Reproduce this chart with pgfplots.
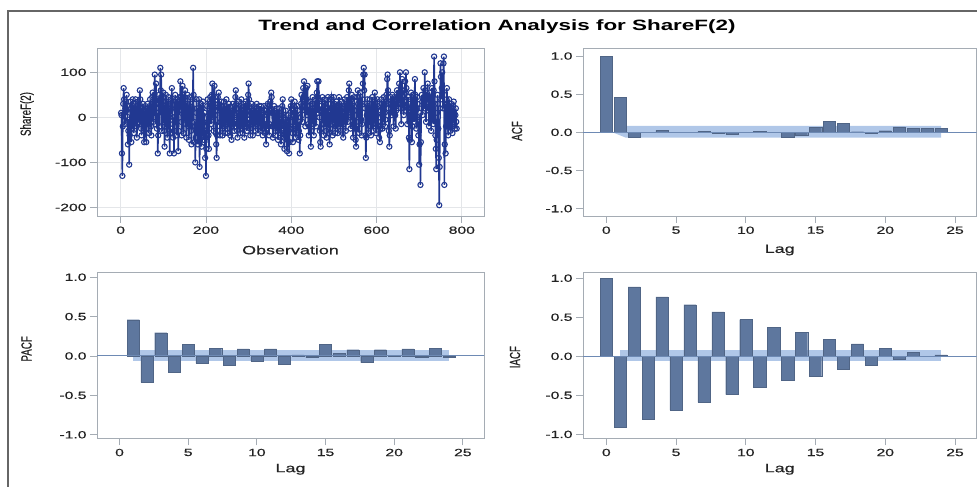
\documentclass[border=0pt]{standalone}
\usepackage{graphicx}
\usepackage{pgfplots}
\pgfplotsset{compat=1.18}
\usepackage{fontspec}
\setmainfont{Liberation Sans}[FakeStretch=1.5]
\newfontfamily\tickfont{Liberation Sans}[FakeStretch=1.5, FakeBold=0.6]
\newfontfamily\ylabfont{Liberation Sans}[FakeBold=0.6]
\definecolor{framec}{RGB}{165,172,180}
\definecolor{tickc}{RGB}{35,35,35}
\definecolor{seriesc}{RGB}{33,56,145}
\definecolor{barc}{RGB}{94,119,158}
\definecolor{bandc}{RGB}{176,199,232}
\definecolor{refc}{RGB}{110,138,180}
\definecolor{gridc}{RGB}{228,230,233}
\newcommand{\ylab}[1]{{\ylabfont\fontsize{9.8}{11}\selectfont\scalebox{1}[1.5]{#1}}}
\pgfplotsset{
  panel/.style={
    scale only axis, anchor=south west,
    axis line style={framec, line width=0.8bp},
    tick style={framec, line width=0.8bp},
    tick align=outside, major tick length=7bp,
    tick pos=left,
    ticklabel style={font=\tickfont\fontsize{10.5}{12}\selectfont, text=tickc},
    /pgf/number format/assume math mode=true,
    xlabel style={font=\tickfont\fontsize{12}{14}\selectfont, text=tickc},
    ylabel style={text=tickc},
  },
  corr/.style={panel,
    xtick={0,5,10,15,20,25}, ytick={-1,-0.5,0,0.5,1},
    yticklabel style={/pgf/number format/fixed, /pgf/number format/fixed zerofill, /pgf/number format/precision=1},
  },
  barsty/.style={ybar, bar width=0.88, fill=barc, draw=barc!85!black, line width=0.3bp},
}
\begin{document}
\begin{tikzpicture}
\useasboundingbox (0,0) rectangle (977bp,487bp);
\draw[line width=1.2bp, color=black!60] (8bp,-5bp) -- (8bp,476bp) -- (990bp,476bp);
\node[font=\fontsize{15}{18}\selectfont\bfseries, anchor=center] at (497bp,460bp) {Trend and Correlation Analysis for ShareF(2)};

% Panel 1: series
\begin{axis}[panel, at={(97bp,271bp)}, width=387bp, height=168bp,
  xmin=-55.5, xmax=852, ymin=-219, ymax=154,
  xtick={0,200,400,600,800}, ytick={-200,-100,0,100},
  grid=major, major grid style={gridc, line width=0.8bp},
  xlabel={Observation}, ylabel={\ylab{ShareF(2)}},
  xlabel style={at={(axis description cs:0.5,0)}, anchor=center, yshift=-34bp},
  ylabel style={at={(axis description cs:0,0.607)}, anchor=center, yshift=70bp}]
\addplot[seriesc, line width=1.5bp, mark=o, mark size=2.6bp, mark options={line width=1.1bp}]
 table[row sep=\\, x expr=\coordindex+1, y=y] {y\\
10\\ 5\\ -80\\ -130\\ -20\\ 30\\ 65\\ 40\\ 10\\ -15\\ 20\\ 35\\ 15\\ 50\\ 25\\ -10\\ -60\\ -30\\ -5\\ -105\\
-40\\ 10\\ 35\\ 20\\ -55\\ -25\\ 15\\ 40\\ 25\\ -10\\ -35\\ -5\\ 20\\ 30\\ 40\\ 10\\ -20\\ -45\\ -15\\ 25\\
35\\ 15\\ -10\\ 30\\ 60\\ 40\\ 5\\ -25\\ -40\\ -10\\ 20\\ 30\\ 5\\ -30\\ -55\\ -20\\ 15\\ 25\\ -5\\ -55\\
-25\\ 10\\ 30\\ 20\\ -15\\ -35\\ 0\\ 25\\ 40\\ 15\\ -20\\ -40\\ 10\\ 45\\ 55\\ 30\\ -10\\ 20\\ 50\\ 95\\
40\\ -15\\ 75\\ 30\\ -25\\ 10\\ -80\\ -40\\ 20\\ 50\\ 30\\ -20\\ 110\\ 60\\ 95\\ 25\\ -30\\ 10\\ 45\\ 55\\
15\\ -30\\ -65\\ -20\\ 25\\ 50\\ 35\\ -10\\ -45\\ 0\\ 30\\ 45\\ 10\\ -30\\ -80\\ -35\\ 15\\ 40\\ 20\\ 65\\
30\\ -15\\ -45\\ 0\\ -80\\ -30\\ 25\\ 50\\ 35\\ -5\\ -40\\ 10\\ 40\\ 20\\ -75\\ -30\\ 15\\ 45\\ 30\\ 80\\
45\\ -10\\ -40\\ 15\\ 70\\ 40\\ 5\\ -35\\ 20\\ 45\\ 60\\ 25\\ -15\\ -45\\ -5\\ 30\\ 50\\ 20\\ -20\\ -50\\
-10\\ 25\\ 45\\ 15\\ -30\\ -60\\ -20\\ 20\\ 40\\ 110\\ 50\\ -10\\ -55\\ -20\\ -100\\ -45\\ 10\\ 40\\ 20\\ -30\\
-60\\ -25\\ 15\\ 40\\ -110\\ -50\\ 0\\ 30\\ 10\\ -65\\ -30\\ 20\\ 35\\ -10\\ -50\\ -20\\ 10\\ -90\\ -45\\ -130\\
-70\\ -20\\ 25\\ 40\\ 5\\ -40\\ -70\\ -25\\ 20\\ 45\\ 30\\ -15\\ 10\\ 50\\ 75\\ 40\\ 0\\ -30\\ 20\\ 70\\
45\\ 5\\ -35\\ -60\\ -90\\ -40\\ 15\\ 45\\ 30\\ 55\\ 20\\ -20\\ -40\\ -10\\ 25\\ 35\\ 10\\ -25\\ -40\\ -5\\
20\\ 35\\ 15\\ -20\\ -35\\ -5\\ 25\\ 40\\ 20\\ -15\\ -35\\ -10\\ 20\\ 30\\ 5\\ -25\\ -40\\ -15\\ 15\\ -50\\
-20\\ 10\\ 30\\ 15\\ -15\\ -30\\ 0\\ 25\\ 45\\ 60\\ 30\\ -5\\ -30\\ -45\\ -15\\ 20\\ 35\\ 10\\ -20\\ -35\\
-5\\ 25\\ 40\\ 15\\ -20\\ -35\\ -10\\ 15\\ 30\\ -45\\ -15\\ 20\\ 35\\ 10\\ -20\\ -30\\ 5\\ 30\\ 50\\ 75\\
40\\ 5\\ -25\\ -40\\ -10\\ 20\\ 30\\ 10\\ -15\\ -40\\ -10\\ 15\\ 25\\ 5\\ -20\\ -30\\ 0\\ 20\\ 30\\ 10\\
-15\\ -35\\ -10\\ 15\\ 25\\ 5\\ -20\\ -30\\ 25\\ 15\\ -10\\ -25\\ -40\\ -15\\ 10\\ 25\\ 15\\ -15\\ -35\\ -20\\
-60\\ -25\\ 5\\ 25\\ 30\\ 10\\ -20\\ -40\\ -15\\ 15\\ 35\\ 20\\ 55\\ 45\\ 10\\ -20\\ -45\\ -20\\ 10\\ 25\\
5\\ -20\\ -40\\ -15\\ 10\\ 20\\ 0\\ -30\\ -50\\ -25\\ 5\\ 20\\ 10\\ -20\\ -45\\ -60\\ -25\\ 5\\ 25\\ 40\\
15\\ -20\\ -45\\ -70\\ -35\\ -5\\ 15\\ -10\\ -40\\ -75\\ -50\\ -20\\ 5\\ -30\\ -80\\ -55\\ -25\\ 10\\ 25\\ 40\\
20\\ -10\\ -35\\ -55\\ -25\\ 5\\ 25\\ 35\\ 10\\ -20\\ -45\\ -25\\ 5\\ 25\\ 15\\ -20\\ -50\\ -30\\ -10\\ -80\\
-40\\ 0\\ 30\\ 50\\ 25\\ -10\\ 40\\ 65\\ 45\\ 80\\ 50\\ 15\\ -20\\ 20\\ 65\\ 40\\ 5\\ 70\\ 35\\ -15\\
-40\\ -20\\ 15\\ 35\\ 10\\ -65\\ -30\\ 5\\ 30\\ 45\\ 20\\ -15\\ -40\\ -10\\ 20\\ 40\\ 15\\ -20\\ 30\\ 55\\
80\\ 45\\ 10\\ 80\\ 40\\ 0\\ -30\\ -55\\ -65\\ -25\\ 10\\ 35\\ 45\\ 20\\ -15\\ -40\\ -15\\ 15\\ 40\\ 25\\
-5\\ -30\\ -45\\ -15\\ 20\\ 45\\ 30\\ -10\\ -35\\ -60\\ -25\\ 10\\ 40\\ 45\\ 20\\ -15\\ -40\\ -10\\ 25\\ 45\\
30\\ -5\\ -35\\ -20\\ 15\\ 35\\ 20\\ -15\\ -35\\ -10\\ 25\\ 45\\ 30\\ -5\\ -30\\ -15\\ 15\\ 35\\ 20\\ -10\\
-35\\ -45\\ -15\\ 20\\ 40\\ 25\\ -10\\ -30\\ 5\\ 30\\ 45\\ 20\\ -10\\ 35\\ 60\\ 75\\ 40\\ 5\\ -25\\ 10\\
40\\ 50\\ 20\\ -20\\ -45\\ -15\\ 25\\ 45\\ 15\\ -25\\ -50\\ -65\\ -25\\ 15\\ 45\\ 60\\ 30\\ -10\\ -35\\ 5\\
35\\ 55\\ 30\\ -5\\ -40\\ -15\\ 40\\ 75\\ 95\\ 110\\ 60\\ 95\\ 20\\ -40\\ -90\\ -45\\ 5\\ 40\\ 25\\ -10\\
-35\\ -10\\ 25\\ 40\\ 15\\ -20\\ -40\\ -5\\ 30\\ 45\\ 20\\ -15\\ -30\\ 10\\ 40\\ 55\\ 30\\ -5\\ -35\\ -15\\
20\\ 40\\ 25\\ -10\\ -30\\ -45\\ -20\\ -55\\ -25\\ 15\\ 40\\ 30\\ 5\\ -25\\ -10\\ 25\\ 45\\ 30\\ 10\\ -20\\
-5\\ 30\\ 50\\ 35\\ 85\\ 95\\ 60\\ 20\\ -30\\ -65\\ -40\\ 10\\ 45\\ 30\\ 5\\ 25\\ 50\\ 40\\ 15\\ -20\\
10\\ 45\\ 35\\ 5\\ -25\\ 15\\ 40\\ 60\\ 30\\ 45\\ 20\\ 55\\ 75\\ 40\\ 100\\ 55\\ 20\\ -15\\ 40\\ 85\\
20\\ 45\\ 30\\ 5\\ 35\\ 60\\ 80\\ 55\\ 100\\ 65\\ 25\\ -15\\ 20\\ 45\\ 10\\ -45\\ -115\\ -50\\ 10\\ 40\\
55\\ 20\\ -55\\ -20\\ 30\\ 50\\ 25\\ -10\\ 40\\ 85\\ 50\\ 15\\ -25\\ 20\\ 45\\ 30\\ -5\\ -40\\ -10\\ -105\\
-60\\ 10\\ -150\\ -55\\ 20\\ 50\\ 35\\ 5\\ 40\\ 65\\ 45\\ 20\\ 100\\ 60\\ 25\\ -10\\ 30\\ 55\\ 40\\ 75\\
45\\ 15\\ -20\\ 20\\ 55\\ 40\\ 10\\ -30\\ 30\\ 65\\ 45\\ 20\\ -15\\ 60\\ 135\\ 80\\ 30\\ -40\\ -70\\ -115\\
-50\\ 10\\ 50\\ 30\\ -25\\ -90\\ -195\\ -110\\ 20\\ 120\\ 90\\ 40\\ 65\\ 100\\ 55\\ 20\\ 120\\ 135\\ -150\\ -60\\
30\\ -80\\ -20\\ 40\\ 65\\ 30\\ -10\\ -40\\ 10\\ 40\\ 25\\ -15\\ -30\\ 5\\ 30\\ 20\\ -20\\ -35\\ 0\\ 25\\
35\\ 10\\ -15\\ -25\\ 5\\ 20\\ -10\\ -25\\
};
\end{axis}

% Panel 2: ACF
\begin{axis}[corr, at={(583bp,271bp)}, width=393.5bp, height=168bp,
  xmin=-1.67, xmax=26.54, ymin=-1.096, ymax=1.105,
  xlabel={Lag}, ylabel={\ylab{ACF}},
  xlabel style={at={(axis description cs:0.5,0)}, anchor=center, yshift=-34bp},
  ylabel style={at={(axis description cs:0,0.506)}, anchor=center, yshift=66bp}]
\addplot[fill=bandc, draw=none] coordinates {(0.45,0) (1.4,0.085) (24,0.085)} \closedcycle;
\addplot[fill=bandc, draw=none] coordinates {(0.45,0) (1.4,-0.07) (24,-0.07)} \closedcycle;
\addplot[barsty] coordinates {
(0,1.0) (1,0.46) (2,-0.06) (3,-0.004) (4,0.026) (5,0.003) (6,0.002) (7,0.012)
(8,-0.01) (9,-0.025) (10,0.003) (11,0.01) (12,0.002) (13,-0.06) (14,-0.04) (15,0.068)
(16,0.145) (17,0.12) (18,0.008) (19,-0.012) (20,0.022) (21,0.07) (22,0.055) (23,0.055) (24,0.055)};
\addplot[refc, line width=1bp] coordinates {(-5,0) (30,0)};
\end{axis}

% Panel 3: PACF
\begin{axis}[corr, at={(97bp,48.7bp)}, width=387bp, height=165.6bp,
  xmin=-1.64, xmax=26.54, ymin=-1.045, ymax=1.057,
  xlabel={Lag}, ylabel={\ylab{PACF}},
  xlabel style={at={(axis description cs:0.5,0)}, anchor=center, yshift=-31bp},
  ylabel style={at={(axis description cs:0,0.54)}, anchor=center, yshift=70.5bp}]
\addplot[fill=bandc, draw=none] coordinates {(1,0.075) (24,0.075)} \closedcycle;
\addplot[fill=bandc, draw=none] coordinates {(1,-0.06) (24,-0.06)} \closedcycle;
\addplot[barsty] coordinates {
(1,0.46) (2,-0.335) (3,0.295) (4,-0.21) (5,0.15) (6,-0.095) (7,0.10) (8,-0.115)
(9,0.09) (10,-0.068) (11,0.09) (12,-0.105) (13,0.015) (14,-0.018) (15,0.15) (16,0.03)
(17,0.08) (18,-0.083) (19,0.08) (20,0.003) (21,0.09) (22,-0.012) (23,0.10) (24,-0.015)};
\addplot[refc, line width=1bp] coordinates {(-5,0) (30,0)};
\end{axis}

% Panel 4: IACF
\begin{axis}[corr, at={(583bp,48.7bp)}, width=393.5bp, height=165.6bp,
  xmin=-1.67, xmax=26.54, ymin=-1.05, ymax=1.07,
  xlabel={Lag}, ylabel={\ylab{IACF}},
  xlabel style={at={(axis description cs:0.5,0)}, anchor=center, yshift=-31bp},
  ylabel style={at={(axis description cs:0,0.49)}, anchor=center, yshift=68bp}]
\addplot[fill=bandc, draw=none] coordinates {(1,0.08) (24,0.08)} \closedcycle;
\addplot[fill=bandc, draw=none] coordinates {(1,-0.055) (24,-0.055)} \closedcycle;
\addplot[barsty] coordinates {
(0,1.0) (1,-0.91) (2,0.89) (3,-0.80) (4,0.76) (5,-0.69) (6,0.66) (7,-0.59)
(8,0.57) (9,-0.49) (10,0.47) (11,-0.40) (12,0.37) (13,-0.31) (14,0.31) (15,-0.25)
(16,0.22) (17,-0.165) (18,0.16) (19,-0.11) (20,0.10) (21,-0.04) (22,0.047) (23,0.002) (24,0.017)};
\addplot[refc, line width=1bp] coordinates {(-5,0) (30,0)};
\end{axis}
\end{tikzpicture}
\end{document}
